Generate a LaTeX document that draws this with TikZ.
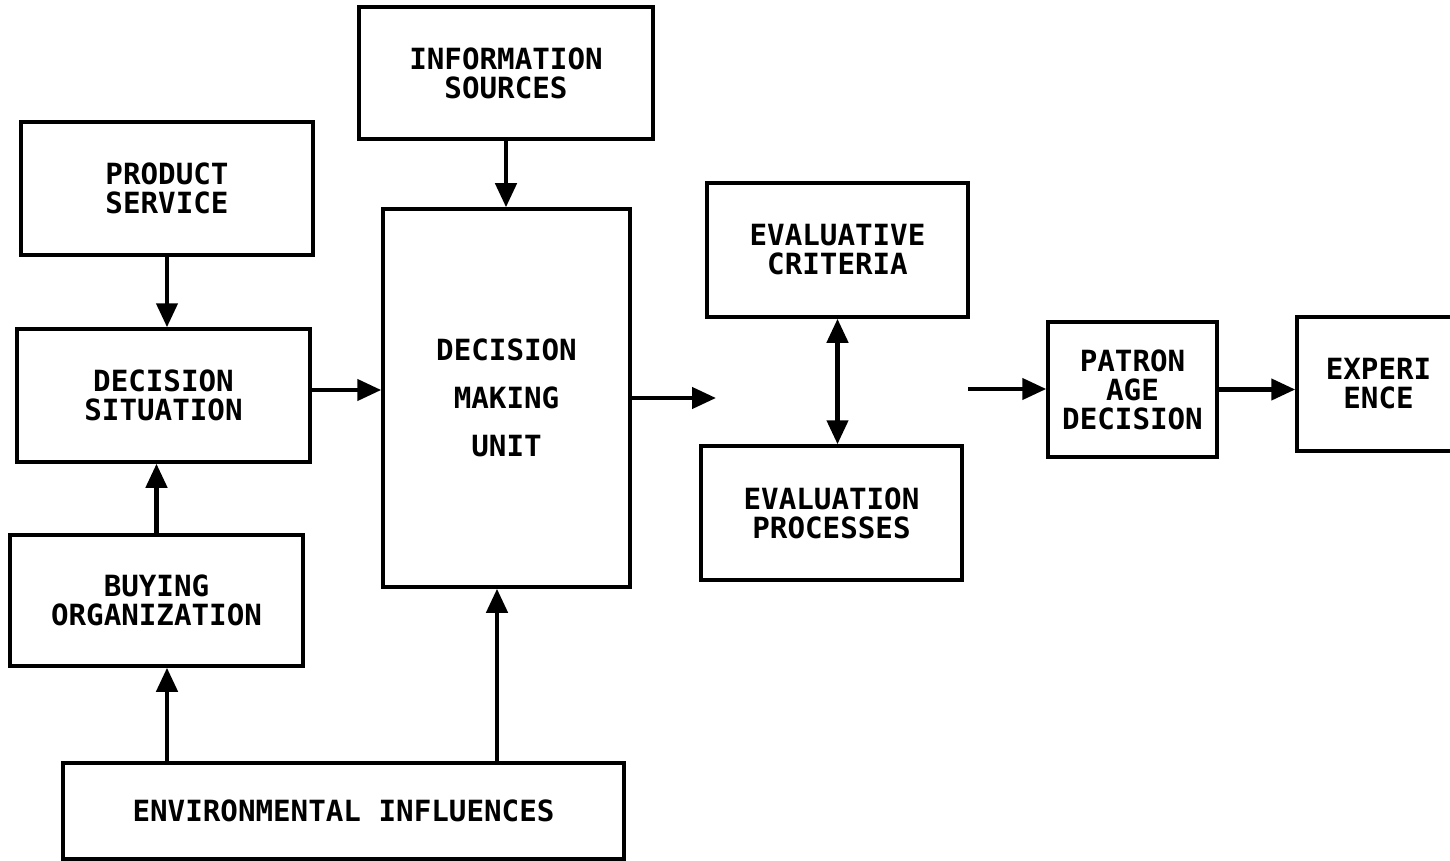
\documentclass[tikz,border=0pt]{standalone}
\usepackage{fontspec}
\setmainfont{DejaVu Sans Mono}
\usetikzlibrary{arrows.meta}
\begin{document}
\begin{tikzpicture}[x=0.5pt,y=-0.5pt,
  box/.style={draw,line width=1.75pt,inner sep=0pt,align=center,
    font=\fontsize{14.6pt}{14.5pt}\selectfont\bfseries},
  arr/.style={line width=2.2pt,-{Triangle[length=12pt,width=10.5pt]}},
  darr/.style={line width=2.2pt,{Triangle[length=12pt,width=10.5pt]}-{Triangle[length=12pt,width=10.5pt]}}]
\useasboundingbox (0,0) rectangle (1450,861);

% boxes
\node[box,minimum width=147pt,minimum height=66pt] (IS) at (506,73) {INFORMATION\\SOURCES};
\node[box,minimum width=146pt,minimum height=66.5pt] (PS) at (167,188.5) {PRODUCT\\SERVICE};
\node[box,minimum width=146.5pt,minimum height=66.5pt] (DS) at (163.5,395.5) {DECISION\\SITUATION};
\node[box,minimum width=146.5pt,minimum height=65.5pt] (BO) at (156.5,600.5) {BUYING\\ORGANIZATION};
\node[box,minimum width=280.5pt,minimum height=48pt] (EI) at (343.5,811) {ENVIRONMENTAL INFLUENCES};
\node[box,minimum width=123.5pt,minimum height=189pt,
  font=\fontsize{14.6pt}{24pt}\selectfont\bfseries] (DMU) at (506.5,398) {DECISION\\MAKING\\UNIT};
\node[box,minimum width=130.5pt,minimum height=67pt] (EC) at (837.5,250) {EVALUATIVE\\CRITERIA};
\node[box,minimum width=130.5pt,minimum height=67pt] (EP) at (831.5,513) {EVALUATION\\PROCESSES};
\node[box,minimum width=84.5pt,minimum height=67.5pt] (PAD) at (1132.5,389.5) {PATRON\\AGE\\DECISION};
\node[box,minimum width=81.5pt,minimum height=67pt] (EXP) at (1378.5,384) {EXPERI\\ENCE};

% helper coordinates for connector positions
\coordinate (xa) at (167,0);
\coordinate (xb) at (497,0);
\coordinate (ya) at (0,390);
\coordinate (dmuout) at (716,398);
\coordinate (padin) at (968,389);

% connectors
\draw[arr] (IS.south) -- (IS.south |- DMU.north);
\draw[arr] (PS.south) -- (PS.south |- DS.north);
\draw[arr] (DS.east |- ya) -- (DMU.west |- ya);
\draw[arr] (BO.north) -- (BO.north |- DS.south);
\draw[arr] (EI.north -| xa) -- (BO.south -| xa);
\draw[arr] (EI.north -| xb) -- (DMU.south -| xb);
\draw[arr] (DMU.east) -- (dmuout);
\draw[darr] (EC.south) -- (EC.south |- EP.north);
\draw[arr] (padin) -- (padin -| PAD.west);
\draw[arr] (PAD.east) -- (PAD.east -| EXP.west);
\end{tikzpicture}
\end{document}
